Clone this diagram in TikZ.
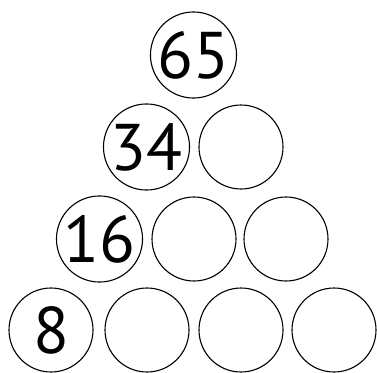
\documentclass[tikz,border=0pt]{standalone}
\usepackage{fontspec}
\setmainfont{PT Sans}
\begin{document}
\begin{tikzpicture}[x=1pt,y=-1pt,
  ball/.style={circle,draw=black,line width=1.1pt,minimum size=84pt,inner sep=0pt,
    font=\fontsize{66}{66}\selectfont}]
\useasboundingbox (0,0) rectangle (377,372);
\node[ball] (r1a) at (193.5,55) {65};
\node[ball] (r2a) at (146.5,147) {34};
\node[ball] (r2b) at (241,147) {};
\node[ball] (r3a) at (99.5,239) {16};
\node[ball] (r3b) at (194,239) {};
\node[ball] (r3c) at (286,239) {};
\node[ball] (r4a) at (51,330) {8};
\node[ball] (r4b) at (147,330) {};
\node[ball] (r4c) at (241,330) {};
\node[ball] (r4d) at (334,330) {};
\end{tikzpicture}
\end{document}
